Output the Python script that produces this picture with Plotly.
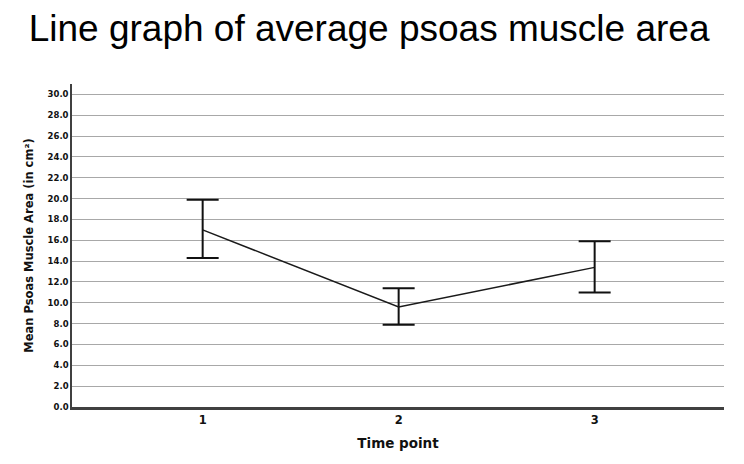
import plotly.graph_objects as go

time_points = [1, 2, 3]
means = [17.0, 9.6, 13.4]
upper = [19.9, 11.4, 15.9]
lower = [14.3, 7.9, 11.0]
y_ticks = [0, 2, 4, 6, 8, 10, 12, 14, 16, 18, 20, 22, 24, 26, 28, 30]

err_plus = [u - m for u, m in zip(upper, means)]
err_minus = [m - l for m, l in zip(means, lower)]

fig = go.Figure()
fig.add_trace(go.Scatter(
    x=time_points, y=means, mode="lines",
    line=dict(color="#1a1a1a", width=1.5),
    error_y=dict(type="data", symmetric=False, array=err_plus, arrayminus=err_minus,
                 color="#111111", thickness=2, width=16),
    showlegend=False,
))

fig.update_layout(
    width=728, height=448,
    margin=dict(l=64, r=12, t=76, b=49),
    paper_bgcolor="white", plot_bgcolor="white",
    title=dict(text="Line graph of average psoas muscle area", x=0.496, xanchor="center",
               y=0.985, yanchor="top",
               font=dict(family="Liberation Sans, Arial", size=37, color="#000000")),
    xaxis=dict(range=[1/3, 3.66], tickvals=time_points, ticktext=[str(t) for t in time_points],
               showgrid=False, zeroline=False, showline=True, linecolor="#404040", linewidth=2.5,
               ticks="", automargin=False,
               tickfont=dict(family="DejaVu Sans", size=11.5, color="#111111", weight="bold"),
               title=dict(text="Time point", standoff=14,
                          font=dict(family="DejaVu Sans", size=13.5, color="#111111", weight="bold"))),
    yaxis=dict(range=[0, 31], tickvals=y_ticks, ticktext=[f"{v:.1f}" for v in y_ticks],
               showgrid=True, gridcolor="#a8a8a8", gridwidth=1, zeroline=False,
               showline=True, linecolor="#404040", linewidth=1.5, ticks="", automargin=False,
               tickfont=dict(family="DejaVu Sans", size=8.5, color="#111111", weight="bold"),
               title=dict(text="Mean Psoas Muscle Area (in cm²)", standoff=12,
                          font=dict(family="DejaVu Sans", size=11.5, color="#111111", weight="bold"))),
)

fig.write_html("out.html")
